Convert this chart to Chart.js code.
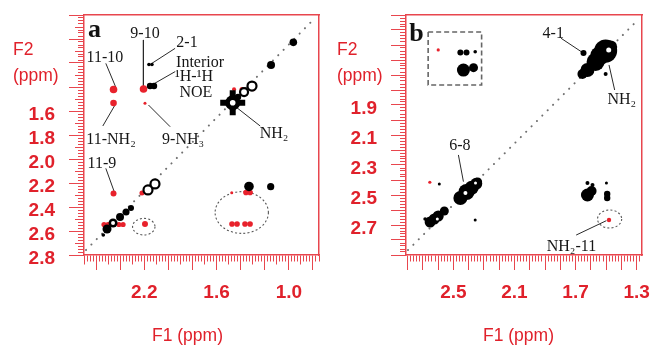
<!DOCTYPE html>
<html><head><meta charset="utf-8">
<script src="https://cdn.jsdelivr.net/npm/chart.js"></script>
<style>
html,body{margin:0;padding:0;background:#fff;}
#wrap{position:relative;width:650px;height:346px;overflow:hidden;}
.panel{position:absolute;top:0;width:325px;height:346px;}
#pa{left:0;} #pb{left:325px;}
</style></head><body>
<div id="wrap"><div class="panel" id="pa"><canvas id="ca"></canvas></div><div class="panel" id="pb"><canvas id="cb"></canvas></div></div>
<script>
// ===================== DATA (F1 ppm, F2 ppm, peak size) =====================
// ---- Panel a ----
const A_X_LABELS = [2.2, 1.6, 1.0];
const A_Y_LABELS = [1.6, 1.8, 2.0, 2.2, 2.4, 2.6, 2.8];
const A_DIAGONAL = [[2.683, 2.758], [0.80, 0.842]];
const A_BLACK = [
  [0.963, 1.028, 3.8], [1.148, 1.217, 4], [1.331, 2.229, 4.8], [1.151, 2.231, 3.6],
  [2.152, 1.392, 3.2], [2.119, 1.392, 3.2], [2.161, 1.2125, 1.8], [2.136, 1.2125, 1.8],
  [2.54, 2.633, 1.8], [1.466, 1.531, 7.5], [1.422, 1.483, 3.2],
  [2.509, 2.583, 4.5], [2.459, 2.533, 4.5], [2.401, 2.483, 4], [2.351, 2.442, 3.5], [2.310, 2.408, 3]
];
const A_OPEN = [
  [1.372, 1.442, 4], [1.306, 1.392, 4.5], [2.169, 2.258, 4.5], [2.111, 2.208, 4.5]
];
const A_STAR = [[1.466, 1.531, 12.5]];
const A_RED = [
  [2.455, 1.421, 3.8], [2.455, 1.533, 3.3], [2.455, 2.2875, 3], [2.206, 1.417, 3.8], [2.194, 1.536, 1.5],
  [1.455, 1.419, 2], [1.389, 1.421, 2.5], [1.295, 1.419, 2],
  [1.356, 2.279, 2.8], [1.322, 2.279, 2.8], [1.474, 2.281, 1.5],
  [1.472, 2.542, 2.8], [1.430, 2.542, 2.8], [1.364, 2.542, 2.8], [1.322, 2.542, 2.8],
  [2.194, 2.542, 3], [2.219, 2.283, 2.5],
  [2.534, 2.546, 2.6], [2.501, 2.546, 2.6], [2.410, 2.546, 2.6], [2.376, 2.546, 2.6]
];
const A_HOLES = [[1.466, 1.531, 2.8], [2.459, 2.533, 2]];
const A_LEADERS = [
  [2.519, 1.203, 2.436, 1.403], [2.544, 1.725, 2.438, 1.542], [2.207, 1.008, 2.207, 1.403],
  [2.137, 1.203, 1.944, 1.078], [2.137, 1.383, 1.944, 1.272], [2.165, 1.55, 1.985, 1.731],
  [1.460, 1.55, 1.238, 1.725], [2.519, 2.078, 2.449, 2.273]
];
const A_TEXT = [
  ['9-10', 2.194, 0.958], ['2-1', 1.845, 1.029], ['Interior', 1.737, 1.2], ['¹H-¹H', 1.787, 1.3125],
  ['NOE', 1.771, 1.45], ['11-10', 2.526, 1.158], ['11-NH₂', 2.476, 1.842], ['9-NH₃', 1.878, 1.842],
  ['NH₂', 1.123, 1.792], ['11-9', 2.551, 2.042]
];
const A_TAG = ['a', 2.613, 0.925];
const A_CIRCLES = [[1.391, 2.446, 0.221, 0.174], [2.204, 2.564, 0.093, 0.069]];
const A_RECTS = [];

// ---- Panel b ----
const B_X_LABELS = [2.5, 2.1, 1.7, 1.3];
const B_Y_LABELS = [1.9, 2.1, 2.3, 2.5, 2.7];
const B_DIAGONAL = [[2.797, 2.867], [1.292, 1.333]];
const B_BLACK = [
  [1.503, 1.54, 11.5], [1.569, 1.613, 9], [1.622, 1.667, 7], [1.655, 1.693, 5], [1.543, 1.573, 9.5],
  [1.470, 1.513, 6.5], [1.648, 1.553, 3], [1.503, 1.693, 2],
  [2.454, 1.55, 3], [2.414, 1.55, 3], [2.357, 1.545, 1.8], [2.434, 1.667, 6.5], [2.368, 1.651, 4.5],
  [2.454, 2.52, 7], [2.414, 2.48, 8], [2.380, 2.452, 7], [2.350, 2.425, 6], [2.341, 2.413, 4.5],
  [2.652, 2.68, 5.5], [2.599, 2.64, 5.5], [2.625, 2.66, 5.5], [2.559, 2.607, 4.5], [2.685, 2.66, 1.8],
  [2.592, 2.427, 1.5], [2.357, 2.667, 1.5],
  [1.622, 2.5, 6.5], [1.595, 2.473, 5], [1.622, 2.42, 2], [1.589, 2.433, 2],
  [1.493, 2.493, 3.2], [1.493, 2.52, 3.2], [1.498, 2.42, 1.5]
];
const B_OPEN = [];
const B_STAR = [];
const B_RED = [[2.599, 1.533, 1.6], [2.654, 2.415, 1.6], [1.481, 2.667, 2.2]];
const B_HOLES = [[1.483, 1.533, 2.5], [2.421, 2.487, 2], [2.355, 2.42, 1.5], [2.605, 2.66, 1.5]];
const B_LEADERS = [
  [1.795, 1.455, 1.653, 1.551], [1.481, 1.633, 1.444, 1.8],
  [2.467, 2.233, 2.434, 2.411], [1.696, 2.767, 1.498, 2.671]
];
const B_TEXT = [['4-1', 1.846, 1.427], ['NH₂', 1.397, 1.867], ['6-8', 2.457, 2.173], ['NH₂-11', 1.727, 2.843]];
const B_TAG = ['b', 2.741, 1.427];
const B_CIRCLES = [[1.477, 2.66, 0.079, 0.06]];
const B_RECTS = [[2.665, 1.413, 2.315, 1.767]];

// ===================== STYLE =====================
const RED = '#e0212b';
const FRAME = '#e8464e';
const PEAK_RED = '#e8222c';
const TL = 15;

function tickValues(min, max, step) {
  const out = [];
  for (let i = Math.ceil(min / step - 1e-9); i * step <= max + 1e-9; i++) out.push(+(i * step).toFixed(4));
  return out;
}
const isMult = (v, s) => Math.abs(v / s - Math.round(v / s)) < 1e-6;
function zeroPad(s) { s.paddingTop = 0; s.paddingBottom = 0; s.paddingLeft = 0; s.paddingRight = 0; }

function axis(pos, min, max, labels, minor, mid, major, size, labelOffset) {
  const vertical = pos === 'left';
  return {
    type: 'linear', position: pos, reverse: true, min, max,
    afterBuildTicks: s => { s.ticks = tickValues(min, max, minor).map(v => ({ value: v })); },
    afterFit: s => { if (vertical) s.width = size; else s.height = size; zeroPad(s); },
    ticks: {
      autoSkip: false, maxRotation: 0, minRotation: 0, color: RED,
      padding: vertical ? 14 : 11, labelOffset: labelOffset,
      font: { family: 'Liberation Sans, Arial, sans-serif', size: 19, weight: 'bold' },
      callback: v => labels.some(l => Math.abs(l - v) < 1e-6) ? v.toFixed(1) : ''
    },
    grid: {
      display: true, drawOnChartArea: false, drawTicks: true, tickLength: TL,
      tickColor: FRAME, tickWidth: 1,
      tickBorderDash: c => {
        const v = c.tick ? c.tick.value : 0;
        const len = isMult(v, major) ? TL : (isMult(v, mid) ? 9 : 6);
        if (len >= TL) return [];
        return vertical ? [0, TL - len, len, 100] : [len, 100];
      }
    },
    border: { display: true, color: FRAME, width: 1.5 }
  };
}
function frameAxis(pos, min, max) {
  const h = pos === 'top';
  return {
    type: 'linear', position: pos, min, max, display: true,
    afterFit: s => { if (h) s.height = 0; else s.width = 0; zeroPad(s); },
    ticks: { display: false }, grid: { display: false, drawTicks: false },
    border: { display: true, color: FRAME, width: 1.5 }
  };
}

function annotPlugin(P) {
  return {
    id: 'annot' + P.id,
    beforeDatasetsDraw(chart) {
      const { ctx, scales: { x, y } } = chart;
      ctx.save();
      ctx.strokeStyle = '#555'; ctx.lineWidth = 1.1; ctx.setLineDash([2, 2.2]);
      P.circles.forEach(([cx, cy, rx, ry]) => {
        const px = x.getPixelForValue(cx), py = y.getPixelForValue(cy);
        const prx = Math.abs(x.getPixelForValue(cx + rx) - px);
        const pry = Math.abs(y.getPixelForValue(cy + ry) - py);
        ctx.beginPath(); ctx.ellipse(px, py, prx, pry, 0, 0, Math.PI * 2); ctx.stroke();
      });
      ctx.strokeStyle = '#666'; ctx.lineWidth = 1.6; ctx.setLineDash([5, 3]);
      P.rects.forEach(([x1, y1, x2, y2]) => {
        const a = x.getPixelForValue(x1), b = y.getPixelForValue(y1);
        const c = x.getPixelForValue(x2), d = y.getPixelForValue(y2);
        ctx.strokeRect(a, b, c - a, d - b);
      });
      ctx.restore();
    },
    afterDatasetsDraw(chart) {
      const { ctx, scales: { x, y } } = chart;
      ctx.save();
      ctx.fillStyle = '#161616'; ctx.textAlign = 'center'; ctx.textBaseline = 'middle';
      ctx.font = '16px "Liberation Serif", "Times New Roman", serif';
      P.text.forEach(([t, fx, fy]) => ctx.fillText(t, x.getPixelForValue(fx), y.getPixelForValue(fy)));
      ctx.font = 'bold 26px "Liberation Serif", "Times New Roman", serif';
      ctx.fillStyle = '#111';
      ctx.fillText(P.tag[0], x.getPixelForValue(P.tag[1]), y.getPixelForValue(P.tag[2]));
      ctx.restore();
    },
    afterDraw(chart) {
      const { ctx } = chart;
      ctx.save();
      ctx.fillStyle = RED; ctx.textBaseline = 'alphabetic';
      ctx.font = '17.5px "Liberation Sans", Arial, sans-serif';
      ctx.textAlign = 'left';
      ctx.fillText('F2', P.f2x, 55);
      ctx.fillText('(ppm)', P.f2x, 81);
      ctx.textAlign = 'center';
      ctx.fillText('F1 (ppm)', P.f1x, 340.5);
      ctx.restore();
    }
  };
}

function makePanel(canvasId, P) {
  const pts = a => a.map(([x, y, r]) => ({ x, y, r }));
  const xy = a => a.map(([x, y]) => ({ x, y }));
  const datasets = [
    { type: 'bubble', data: pts(P.holes), backgroundColor: '#fff', borderWidth: 0, order: 0 },
    { type: 'bubble', data: pts(P.open), backgroundColor: '#fff', borderColor: '#000', borderWidth: 2.2, order: 1 },
    { type: 'bubble', data: pts(P.black), backgroundColor: '#000', borderWidth: 0, order: 2 },
    { type: 'bubble', data: pts(P.star), pointStyle: 'cross', backgroundColor: '#000', borderColor: '#000', borderWidth: 6, order: 3 },
    { type: 'bubble', data: pts(P.red), backgroundColor: PEAK_RED, borderWidth: 0, order: 4 },
    ...P.leaders.map(([x1, y1, x2, y2]) => ({
      type: 'scatter', showLine: true, data: [{ x: x1, y: y1 }, { x: x2, y: y2 }],
      borderColor: '#2a2a2a', borderWidth: 1, pointRadius: 0, order: 5
    })),
    { type: 'scatter', showLine: true, data: xy(P.diag), borderColor: '#707070', borderWidth: 2,
      borderDash: [0.1, 7.5], borderCapStyle: 'round', pointRadius: 0, order: 6 }
  ];
  return new Chart(document.getElementById(canvasId), {
    type: 'scatter',
    data: { datasets },
    options: {
      responsive: true, maintainAspectRatio: false, animation: false, events: [],
      layout: { autoPadding: false, padding: { left: 0, right: P.padRight, top: 15, bottom: 0 } },
      plugins: { legend: { display: false }, tooltip: { enabled: false } },
      scales: {
        x: axis('bottom', P.xr[0], P.xr[1], P.xl, P.xs[0], P.xs[1], P.xs[2], 91, 0),
        y: axis('left', P.yr[0], P.yr[1], P.yl, P.ys[0], P.ys[1], P.ys[2], P.yw, P.lo),
        xTop: frameAxis('top', P.xr[0], P.xr[1]),
        yRight: frameAxis('right', P.yr[0], P.yr[1])
      }
    },
    plugins: [annotPlugin(P)]
  });
}

makePanel('ca', {
  id: 'a', xr: [0.75, 2.7], yr: [0.8, 2.8], xl: A_X_LABELS, yl: A_Y_LABELS,
  xs: [0.025, 0.1, 0.2], ys: [0.025, 0.1, 0.2], yw: 84, padRight: 6, lo: 4,
  diag: A_DIAGONAL, black: A_BLACK, open: A_OPEN, star: A_STAR, red: A_RED, holes: A_HOLES,
  leaders: A_LEADERS, text: A_TEXT, tag: A_TAG, circles: A_CIRCLES, rects: A_RECTS,
  f2x: 13, f1x: 187.5
});
makePanel('cb', {
  id: 'b', xr: [1.265, 2.81], yr: [1.3, 2.9], xl: B_X_LABELS, yl: B_Y_LABELS,
  xs: [0.02, 0.05, 0.1], ys: [0.02, 0.05, 0.1], yw: 81, padRight: 8, lo: 3.5,
  diag: B_DIAGONAL, black: B_BLACK, open: B_OPEN, star: B_STAR, red: B_RED, holes: B_HOLES,
  leaders: B_LEADERS, text: B_TEXT, tag: B_TAG, circles: B_CIRCLES, rects: B_RECTS,
  f2x: 12, f1x: 193.5
});
</script>
</body></html>
